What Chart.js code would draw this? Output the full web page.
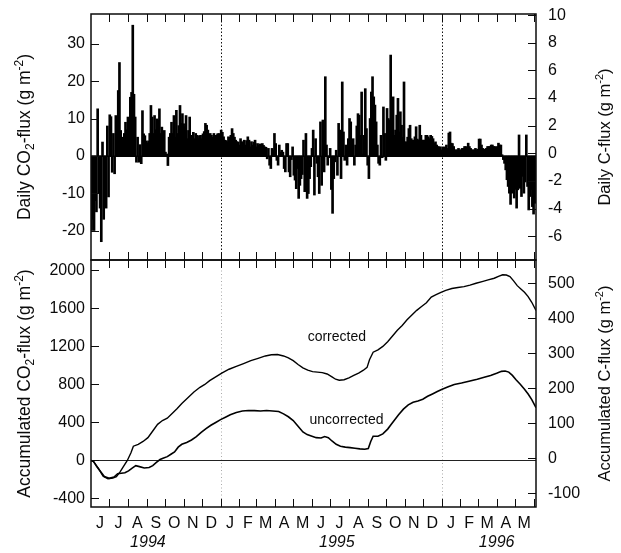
<!DOCTYPE html>
<html>
<head>
<meta charset="utf-8">
<script src="https://cdn.jsdelivr.net/npm/chart.js@4.4.1/dist/chart.umd.min.js"></script>
<style>
  html, body { margin: 0; padding: 0; background: #fff; }
  #wrap { position: relative; width: 621px; height: 553px; }
  #wrap canvas { position: absolute; left: 0; top: 0; }
</style>
</head>
<body>
<div id="wrap">
  <canvas id="daily" width="621" height="553"></canvas>
  <canvas id="accum" width="621" height="553"></canvas>
</div>
<script>
// ---- time axis: days since 1 June 1994 ----
const START = Date.UTC(1994, 5, 1);
const dayOf = (y, m, d) => (Date.UTC(y, m - 1, d) - START) / 86400000;
const X_MAX = 735;

const monthLabels = ['J','J','A','S','O','N','D','J','F','M','A','M',
                     'J','J','A','S','O','N','D','J','F','M','A','M'];
const yearLabels = ['1994', '1995', '1996'];
const yearLabelDates = [[1994, 9, 3], [1995, 7, 12], [1996, 4, 1]];
const yearDividerDates = [[1995, 1, 1], [1996, 1, 1]];

// ---- daily CO2 flux (g m-2), one value per 2-day step from 1 June 1994 ----
const DAILY_STEP = 2;
const dailyFlux = [
  -20, -17, -20, -12, -15, 12.6, -10, -14, -23, 3.7, -17, -11, -14, 8, -11, 11, 10.5, -4.4, 6, -4.8,
  10.8, 7, 17.5, 25, 6.8, 4, 5, 6, 9, 7, 10.4, 8, 15.7, 17, 35, 16.5, 10.4, -1.7, 5, -1.7,
  3, -2.1, 12.1, 5.9, 5.4, 4, 3.5, 4, 6, 13.5, 10.4, 6, 10.8, 7, 9.9, 9.5, 12.6, 6, 7.7, 5,
  6.8, 1, 0.5, -2.6, 5, 6, 9, 6, 10.8, 5, 12.2, 6, 8.1, 13.5, 8.7, 11.3, 8.6, 7.8, 10.8, 4.6,
  6.8, 10.4, 4.2, 5.5, 6.3, 4.6, 6, 5.5, 4.6, 5.4, 5.5, 4.6, 5.9, 6.5, 8.7, 8.2, 6.9, 4.6, 6, 5.5,
  5, 6, 5.4, 5.5, 5.9, 6, 5.5, 6.9, 6.3, 5.1, 4.2, 4.1, 3.8, 5.1, 5, 5.5, 7.3, 6, 5, 4.2,
  3.8, 3.7, 2.9, 4.6, 3.8, 3.3, 4.2, 2.9, 4.1, 5.1, 4.2, 2.4, 3.8, 2.9, 3.7, 4.2, 2.4, 3.3, 2.9, 3.2,
  1.5, 3.3, 2.8, 2.4, 2.3, -0.8, 2, -2.5, -3.4, 2, 1.5, 6, 3.3, -1.2, -2.5, 2.9, 1, 1.5, 1, -3.4,
  -4.3, 3.3, 3.3, -4.3, -5.6, -1, 2.4, -5.2, -6.5, -8.8, -3.4, -11.4, -7.9, -6.1, -5, 4.2, -9.6, 6, -11.4, -10.1,
  -6.1, -2.9, 2, 6.9, -10.5, 4.6, -2, -5.6, -10.1, 9.1, -7.9, 9.6, -4.3, 21.2, 2.9, -2.5, -0.5, 2, -9, -15.4,
  -6.1, -1.6, 1.5, -5.2, 8.7, 6.9, -6.1, 19.8, 6.4, -1.2, 2.9, -2.5, 4.6, 10, 9.1, 2.4, 4.6, -2.5, 2.9, 8,
  11.3, 10.9, 5.5, 17.1, 0.5, 5.5, 18, 7.3, -2.5, -6.1, 10, 17.1, 21.2, 15.8, 13.6, 9.1, 2.9, -2, -2.5, 5.5,
  -0.5, 13.1, 6, -1.2, 12.7, 10, 9.6, 27, 12.2, 15.8, 5.5, 6.9, 10.9, 15.4, 6.4, 11.8, 8.2, 5, 19.8, 3.75,
  3.75, 5, 7.3, 8.2, 4.6, 4.2, 4.2, 5.1, 7.8, 4.5, 4.2, 8.2, 5.5, 4.2, 4.2, 4.2, 5.5, 5.5, 5.1, 4.6,
  5.5, 5.2, 4.6, 3.4, 3.75, 2.9, 2.5, 2.4, 2.4, 1.6, 2.4, 2, 2.4, 2.9, 2, 6.1, 6.4, 3.4, 3.3, 2.5,
  1.6, 1.6, 1.6, 2, 1.6, 1.6, 2, 2, 2.5, 2.5, 2, 3.4, 2.5, 2, 1.6, 1.6, 1.6, 2, 1.6, 1.8,
  4.5, 4.5, 2.9, 2, 1.6, 1.8, 2, 2.5, 2.5, 2.5, 2.9, 2.9, 2.5, 2.5, 2, 2.5, 3.4, 2.9, 2.9, 0.3,
  -1, -2, -3.75, -6.4, -8.2, -10, -13, -10, -7.3, -11.3, -9, -14, -9.1, 5.6, -8.7, -10.9, -5.5, -10, -7, 5.6,
  -8.2, -14.5, -10.9, -9, -13.6, -15.6, -12.7, -11
];

// ---- accumulated CO2 flux (g m-2) ----
const corrDay = [0,4,12,20,28,36,42,48,54,60,66,70,78,86,94,102,110,118,126,134,142,150,160,170,180,188,196,206,216,228,
  240,252,264,276,288,298,308,318,326,334,342,350,358,366,374,382,390,398,404,410,418,426,434,442,450,456,460,466,474,482,
  490,498,506,514,522,530,538,546,554,562,570,578,586,596,606,616,626,636,646,656,666,674,680,686,692,698,704,710,716,722,728,735];
const corrFlux = [0,-10,-80,-165,-192,-185,-170,-120,-60,0,80,150,170,200,240,310,380,420,445,495,545,600,660,720,770,800,840,880,920,960,
  990,1020,1050,1075,1100,1112,1115,1100,1080,1050,1010,975,950,935,930,925,910,880,855,845,850,870,895,920,950,980,1060,1140,1165,1200,
  1250,1310,1370,1420,1480,1530,1580,1620,1660,1720,1745,1770,1790,1810,1820,1830,1845,1865,1882,1900,1918,1940,1955,1952,1935,1890,1840,1805,1770,1725,1665,1578];
const uncDay = [0,4,10,16,22,30,38,44,50,56,62,68,74,80,88,96,102,108,114,120,126,132,138,144,150,158,166,174,182,190,
  198,206,214,222,230,240,250,260,270,280,290,300,310,318,326,334,342,350,357,365,372,380,386,392,398,405,412,420,428,436,
  444,452,458,462,466,474,482,490,496,502,508,516,524,532,540,548,556,564,572,580,590,600,612,626,638,648,660,670,678,684,
  690,696,702,709,716,722,728,735];
const uncFlux = [0,-10,-70,-120,-170,-188,-175,-140,-135,-130,-110,-80,-55,-65,-80,-75,-55,-20,10,25,40,65,90,140,170,190,215,250,295,335,
  370,400,430,455,480,505,520,526,524,520,525,520,515,490,460,420,360,300,272,255,240,237,252,240,205,170,150,140,135,128,
  122,118,125,200,255,255,280,330,380,430,480,540,585,612,625,645,675,700,725,749,775,800,815,837,855,873,895,918,938,942,
  930,895,850,802,750,700,640,555];

const curveNames = ['corrected', 'uncorrected'];
const curveNameAnchors = [[406, 1300], [422, 424]];   // [day, CO2 flux]

// ---- axis ranges: CO2 on the left, carbon on the right ----
const DAILY_MIN = -27.9, DAILY_MAX = 38;
const DAILY_C_MIN = -7.73, DAILY_C_MAX = 10.09;
const ACC_MIN = -490, ACC_MAX = 2110;
const ACC_C_MIN = -139, ACC_C_MAX = 567;

// ---- helpers ----
const FAMILY = "'Liberation Sans', Arial, Helvetica, sans-serif";
const INK = '#0b0b0b';
const TICK_LEN = 8;
const axisFont = { family: FAMILY, size: 16 };
const LEFT_TITLE_SIZE = 17.5, RIGHT_TITLE_SIZE = 16.5;

const monthStarts = [];
for (let k = 0; k <= 24; k++) monthStarts.push((Date.UTC(1994, 5 + k, 1) - START) / 86400000);
const monthMids = monthLabels.map((_, k) => (monthStarts[k] + monthStarts[k + 1]) / 2);
const yearDividers = yearDividerDates.map(d => dayOf(d[0], d[1], d[2]));

function drawVerticalTitle(ctx, parts, cx, cy, size) {
  const small = Math.round(size * 0.66);
  ctx.save();
  ctx.translate(cx, cy);
  ctx.rotate(-Math.PI / 2);
  ctx.fillStyle = INK;
  ctx.textAlign = 'left';
  ctx.textBaseline = 'alphabetic';
  let total = 0;
  parts.forEach(p => {
    ctx.font = ((p.sub || p.sup) ? small : size) + 'px ' + FAMILY;
    total += ctx.measureText(p.t).width;
  });
  let x = -total / 2;
  const base = size * 0.36;
  parts.forEach(p => {
    ctx.font = ((p.sub || p.sup) ? small : size) + 'px ' + FAMILY;
    let y = base;
    if (p.sub) y = base + size * 0.22;
    if (p.sup) y = base - size * 0.42;
    ctx.fillText(p.t, x, y);
    x += ctx.measureText(p.t).width;
  });
  ctx.restore();
}

function framePlugin(cfg) {
  return {
    id: 'frame_' + cfg.name,
    beforeDatasetsDraw(chart) {
      const { ctx, chartArea: a, scales } = chart;
      ctx.save();
      ctx.beginPath();
      ctx.rect(a.left, a.top, a.right - a.left, a.bottom - a.top);
      ctx.clip();
      // dotted year dividers
      ctx.strokeStyle = cfg.dividerColor;
      ctx.lineWidth = 1;
      ctx.setLineDash(cfg.dividerDash);
      yearDividers.forEach(d => {
        const px = Math.round(scales.x.getPixelForValue(d)) + 0.5;
        ctx.beginPath(); ctx.moveTo(px, a.top); ctx.lineTo(px, a.bottom); ctx.stroke();
      });
      ctx.setLineDash([]);
      // zero line
      const y0 = Math.round(scales.y.getPixelForValue(0)) + 0.5;
      ctx.strokeStyle = cfg.zeroColor;
      ctx.lineWidth = 1.2;
      ctx.beginPath(); ctx.moveTo(a.left, y0); ctx.lineTo(a.right, y0); ctx.stroke();
      ctx.restore();
    },
    afterDraw(chart) {
      const { ctx, chartArea: a, scales } = chart;
      ctx.save();
      ctx.strokeStyle = INK;
      ctx.lineWidth = 1;
      // inward value ticks
      scales.y.ticks.forEach(t => {
        const py = Math.round(scales.y.getPixelForValue(t.value)) + 0.5;
        ctx.beginPath(); ctx.moveTo(a.left, py); ctx.lineTo(a.left + TICK_LEN, py); ctx.stroke();
      });
      scales.yC.ticks.forEach(t => {
        const py = Math.round(scales.yC.getPixelForValue(t.value)) + 0.5;
        ctx.beginPath(); ctx.moveTo(a.right, py); ctx.lineTo(a.right - TICK_LEN, py); ctx.stroke();
      });
      // inward month ticks on top and bottom edges
      monthStarts.forEach(d => {
        if (d <= 0 || d >= X_MAX) return;
        const px = Math.round(scales.x.getPixelForValue(d)) + 0.5;
        ctx.beginPath(); ctx.moveTo(px, a.top); ctx.lineTo(px, a.top + TICK_LEN); ctx.stroke();
        ctx.beginPath(); ctx.moveTo(px, a.bottom); ctx.lineTo(px, a.bottom - TICK_LEN); ctx.stroke();
      });
      // frame
      ctx.lineWidth = 1.5;
      ctx.strokeRect(a.left, a.top, a.right - a.left, a.bottom - a.top);
      ctx.restore();

      const cy = (a.top + a.bottom) / 2;
      drawVerticalTitle(ctx, cfg.leftTitle, 24, cy, LEFT_TITLE_SIZE);
      drawVerticalTitle(ctx, cfg.rightTitle, 604, cy, RIGHT_TITLE_SIZE);
      if (cfg.extra) cfg.extra(chart);
    }
  };
}

// fixed axis box sizes so both panels share the same plot frame
function fixBox(size, horizontal) {
  return s => {
    if (horizontal) s.height = size; else s.width = size;
    s.paddingTop = 0; s.paddingBottom = 0; s.paddingLeft = 0; s.paddingRight = 0;
  };
}

function yScale(position, min, max, step, pad, width, labelEvery) {
  return {
    type: 'linear', position, min, max,
    grid: { display: false, drawTicks: false },
    border: { display: false },
    ticks: {
      stepSize: step, includeBounds: false, padding: pad, color: INK, font: axisFont,
      callback: v => (labelEvery && Math.abs(v % labelEvery) > 1e-6) ? '' : String(Math.round(v))
    },
    afterFit: fixBox(width, false)
  };
}

// ---- top panel: daily flux bars ----
new Chart(document.getElementById('daily'), {
  type: 'bar',
  data: {
    datasets: [{
      data: dailyFlux.map((v, i) => ({ x: i * DAILY_STEP + DAILY_STEP / 2, y: v })),
      backgroundColor: '#000',
      borderWidth: 0,
      barThickness: 2,
      xAxisID: 'x', yAxisID: 'y'
    }]
  },
  options: {
    responsive: false, animation: false, devicePixelRatio: 1,
    layout: { padding: { top: 14, bottom: 293, left: 0, right: 0 } },
    plugins: { legend: { display: false }, tooltip: { enabled: false } },
    scales: {
      x: { type: 'linear', min: 0, max: X_MAX, offset: false, display: false },
      y: yScale('left', DAILY_MIN, DAILY_MAX, 10, 6, 91, 0),
      yC: yScale('right', DAILY_C_MIN, DAILY_C_MAX, 2, 12, 85, 0)
    }
  },
  plugins: [framePlugin({
    name: 'daily',
    dividerColor: '#111', dividerDash: [1.5, 2],
    zeroColor: '#000',
    leftTitle: [{ t: 'Daily CO' }, { t: '2', sub: 1 }, { t: '-flux (g m' }, { t: '-2', sup: 1 }, { t: ')' }],
    rightTitle: [{ t: 'Daily C-flux (g m' }, { t: '-2', sup: 1 }, { t: ')' }]
  })]
});

// ---- bottom panel: accumulated flux ----
new Chart(document.getElementById('accum'), {
  type: 'line',
  data: {
    datasets: [
      { label: curveNames[0], data: corrDay.map((d, i) => ({ x: d, y: corrFlux[i] })),
        borderColor: '#000', borderWidth: 1.4, pointRadius: 0, tension: 0, fill: false },
      { label: curveNames[1], data: uncDay.map((d, i) => ({ x: d, y: uncFlux[i] })),
        borderColor: '#000', borderWidth: 1.6, pointRadius: 0, tension: 0, fill: false }
    ]
  },
  options: {
    responsive: false, animation: false, devicePixelRatio: 1,
    layout: { padding: { top: 260, bottom: 0, left: 0, right: 0 } },
    plugins: { legend: { display: false }, tooltip: { enabled: false } },
    scales: {
      x: {
        type: 'linear', min: 0, max: X_MAX, offset: false, position: 'bottom',
        grid: { display: false, drawTicks: false },
        border: { display: false },
        afterBuildTicks: s => { s.ticks = monthMids.map(v => ({ value: v })); },
        ticks: {
          autoSkip: false, maxRotation: 0, minRotation: 0, padding: 7,
          color: INK, font: axisFont,
          callback: (v, i) => monthLabels[i]
        },
        afterFit: fixBox(46, true)
      },
      y: yScale('left', ACC_MIN, ACC_MAX, 400, 6, 91, 0),
      yC: yScale('right', ACC_C_MIN, ACC_C_MAX, 50, 12, 85, 100)
    }
  },
  plugins: [framePlugin({
    name: 'accum',
    dividerColor: '#aaa', dividerDash: [1, 2.5],
    zeroColor: '#222',
    leftTitle: [{ t: 'Accumulated CO' }, { t: '2', sub: 1 }, { t: '-flux (g m' }, { t: '-2', sup: 1 }, { t: ')' }],
    rightTitle: [{ t: 'Accumulated C-flux (g m' }, { t: '-2', sup: 1 }, { t: ')' }],
    extra(chart) {
      const { ctx, scales } = chart;
      ctx.save();
      ctx.fillStyle = INK;
      ctx.textAlign = 'center';
      ctx.textBaseline = 'middle';
      // year captions under the month letters
      ctx.font = 'italic 16px ' + FAMILY;
      yearLabels.forEach((t, i) => {
        const d = yearLabelDates[i];
        ctx.fillText(t, scales.x.getPixelForValue(dayOf(d[0], d[1], d[2])), 543);
      });
      // curve names
      ctx.font = '14px ' + FAMILY;
      curveNames.forEach((t, i) => {
        const [dx, vy] = curveNameAnchors[i];
        ctx.fillText(t, scales.x.getPixelForValue(dx), scales.y.getPixelForValue(vy));
      });
      ctx.restore();
    }
  })]
});
</script>
</body>
</html>
